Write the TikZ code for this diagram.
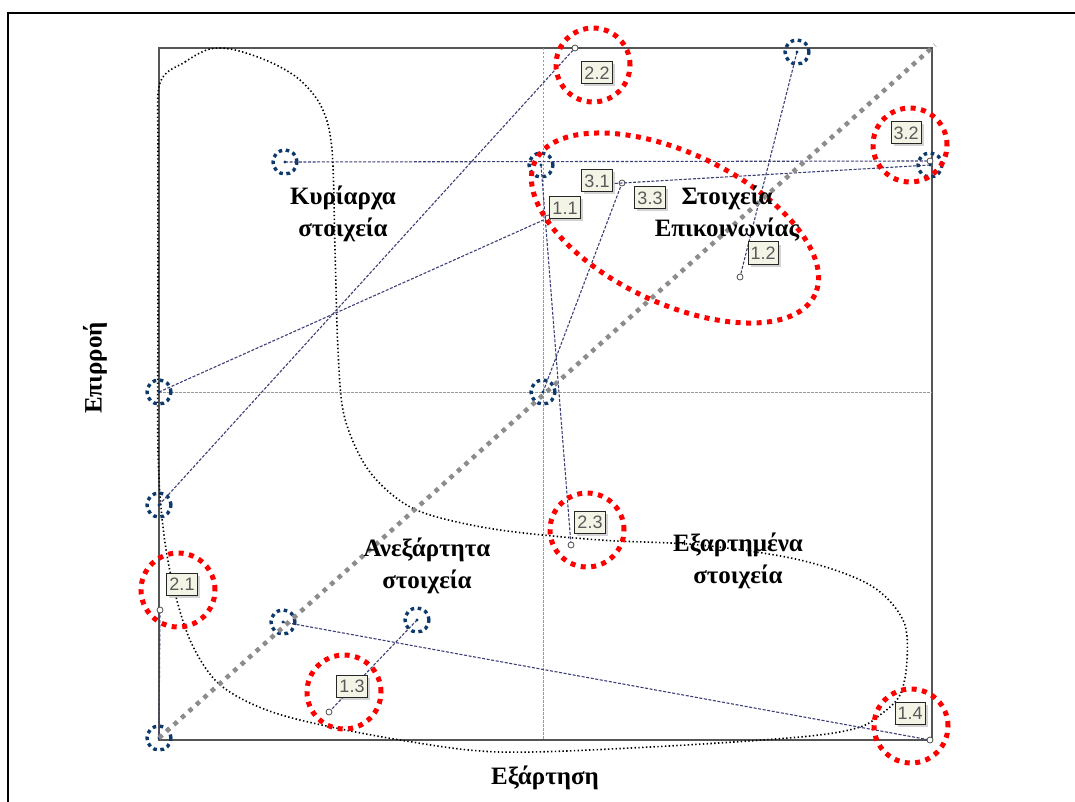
\documentclass[tikz,border=0pt]{standalone}
\usepackage{fontspec}
\setmainfont{Liberation Serif}
\newfontfamily\tagfont{Liberation Sans}
\usetikzlibrary{shadows, positioning, calc}

\definecolor{movecol}{HTML}{3E3E76}
\definecolor{oldcol}{HTML}{0E3A6B}
\definecolor{tagfill}{HTML}{F3F3E6}
\definecolor{axiscol}{HTML}{555555}

\begin{document}
\begin{tikzpicture}[
    x=1pt, y=-1pt,
    heading/.style={font=\fontsize{25}{32}\selectfont\bfseries, align=center, inner sep=0pt},
    moveline/.style={movecol, line width=1.1pt, dash pattern=on 3pt off 1.6pt},
    midline/.style={gray!80, line width=0.6pt, dash pattern=on 2.5pt off 1.5pt},
    oldpos/.style={circle, draw=oldcol, line width=3.4pt, dash pattern=on 3.6pt off 3.6pt, minimum size=24pt, inner sep=0pt},
    newmark/.style={circle, draw=black!70, fill=white, line width=0.8pt, minimum size=6pt, inner sep=0pt},
    newzone/.style={circle, draw=red, line width=5pt, dash pattern=on 5pt off 5.5pt, minimum size=74pt, inner sep=0pt},
    tag/.style={rectangle, draw=black!85, line width=1pt, fill=tagfill, text=black!65, font=\tagfont\fontsize{18}{18}\selectfont, inner sep=2.5pt, minimum height=22pt, drop shadow={shadow xshift=2.5pt, shadow yshift=-2.5pt, opacity=0.35}},
    trend/.style={gray!90, line width=4.5pt, dash pattern=on 4.5pt off 5.5pt},
    region/.style={black, line width=1.6pt, dash pattern=on 1.4pt off 2.4pt}
]
\useasboundingbox (0,0) rectangle (1075,802);

% Frame and plot area
\draw[line width=2.2pt] (1075,13) -- (8,13) -- (8,802);
\draw[axiscol, line width=1.3pt] (159,48) rectangle (932,740);
\draw[midline] (543,48) -- (543,740);
\draw[midline] (159,392) -- (932,392);

% Region outline
\draw[region] plot[smooth cycle, tension=0.55] coordinates {
    (160,83) (185,62) (210,49) (235,50) (270,62) (300,80) (322,108) (332,150)
    (335,250) (338,350) (344,415) (365,465) (395,497) (430,515) (500,530)
    (600,540) (700,545) (800,560) (870,585) (903,620) (907,660) (900,695)
    (880,715) (857,728) (800,737) (650,747) (500,752) (400,740) (300,720)
    (250,703) (215,680) (190,640) (173,585) (163,527) (158,450) (158,300) (158,150)};

% Old positions
\foreach \name/\px/\py in {o11/159/392, o12/797/52, o13/417/620, o14/283/622,
    o21/159/738, o22/159/505, o23/541/165, o31/930/165, o32/285/162, o33/543/392}
    \node[oldpos] (\name) at (\px,\py) {};

% New positions
\foreach \name/\px/\py in {n11/548/218, n12/740/277, n13/329/712, n14/930/740,
    n21/160/610, n22/575/48, n23/571/545, n31/588/185, n32/930/161, n33/622/183}
    \node[newmark] (\name) at (\px,\py) {};

% Movements
\foreach \k in {11, 12, 13, 14, 21, 22, 23, 31, 32, 33}
    \draw[moveline] (o\k.center) -- (n\k);
\foreach \k in {11, 12, 13, 14, 21, 22, 23, 31, 32, 33}
    \fill[oldcol] (o\k.center) circle (1.6pt);

% Diagonal
\coordinate (diagend) at (935,45);
\draw[trend] (o21.center) -- (diagend);

% Tags
\node[tag] (t22) at (597,73) {2.2};
\node[tag] (t31) at (597,181) {3.1};
\node[tag] (t33) at (650,198) {3.3};
\node[tag] (t11) at (565,208) {1.1};
\node[tag] (t12) at (763,253) {1.2};
\node[tag] (t32) at (906,133) {3.2};
\node[tag] (t21) at (182,584) {2.1};
\node[tag] (t23) at (590,522) {2.3};
\node[tag] (t13) at (352,686) {1.3};
\node[tag] (t14) at (910,713) {1.4};

% Highlighted zones
\foreach \name/\px/\py in {z22/593/65, z32/910/145, z21/178/590,
    z23/587/530, z13/344/692, z14/911/726}
    \node[newzone] (\name) at (\px,\py) {};
\draw[red, line width=5pt, dash pattern=on 5pt off 5.5pt, rotate around={-25.5:(675,228)}]
    (675,228) ellipse [x radius=155, y radius=75];

% Headings
\node[heading] (dominant) at (343,214) {Κυρίαρχα\\στοιχεία};
\node[heading] (linking) at (727,214) {Στοιχεία\\Επικοινωνίας};
\node[heading] (independent) at (427,566) {Ανεξάρτητα\\στοιχεία};
\node[heading] (dependent) at (738,561) {Εξαρτημένα\\στοιχεία};
\node[heading, rotate=90] (influence) at (95,368) {Επιρροή};
\node[heading] (dependence) at (545,778) {Εξάρτηση};

\end{tikzpicture}
\end{document}
